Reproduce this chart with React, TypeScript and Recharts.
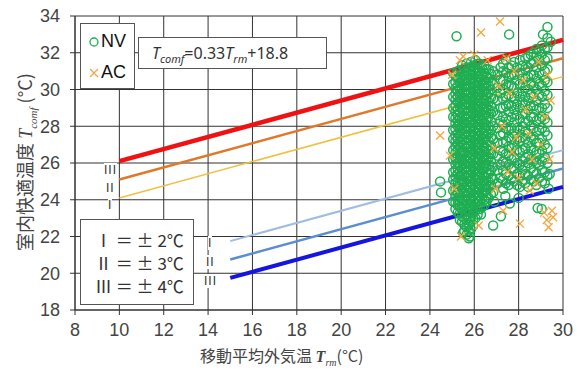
import { ComposedChart, Line, Scatter, XAxis, YAxis, CartesianGrid } from 'recharts';

// axis ticks
const xTicks = [8, 10, 12, 14, 16, 18, 20, 22, 24, 26, 28, 30];
const yTicks = [18, 20, 22, 24, 26, 28, 30, 32, 34];

// comfort band limits
const upperX = [10, 30];
const upper2 = [24.1, 30.7];
const upper3 = [25.1, 31.7];
const upper4 = [26.1, 32.7];
const lowerX = [15, 30];
const lower2 = [21.75, 26.7];
const lower3 = [20.75, 25.7];
const lower4 = [19.75, 24.7];

// NV (free running) – dense columns of readings
const nvColumns: [number, number[]][] = [
  [25.05, [23.9, 24.5, 25.1, 25.5, 26.2, 26.7, 27.3, 27.8, 28.5, 29.0, 29.6, 30.3, 30.9]],
  [25.15, [23.5, 23.85, 24.2, 24.55, 24.9, 25.25, 25.6, 25.95, 26.3, 26.55, 26.9, 27.2, 27.5, 27.85, 28.15, 28.45, 28.8, 29.1, 29.45, 29.75, 30.05, 30.4, 30.75]],
  [25.25, [23.3, 23.7, 24.0, 24.4, 24.7, 25.0, 25.4, 25.7, 26.0, 26.3, 26.7, 27.0, 27.3, 27.6, 28.0, 28.3, 28.6, 28.9, 29.3, 29.6, 29.9, 30.2, 30.6, 31.0]],
  [25.35, [22.9, 23.25, 23.6, 23.95, 24.25, 24.6, 24.95, 25.3, 25.55, 25.9, 26.25, 26.5, 26.85, 27.15, 27.45, 27.8, 28.1, 28.4, 28.75, 29.05, 29.4, 29.7, 30.0, 30.35, 30.7, 31.05]],
  [25.45, [22.8, 23.1, 23.5, 23.8, 24.1, 24.4, 24.8, 25.1, 25.4, 25.7, 26.1, 26.4, 26.6, 27.0, 27.3, 27.6, 27.9, 28.2, 28.5, 28.9, 29.2, 29.5, 29.8, 30.1, 30.5, 30.8, 31.3]],
  [25.55, [22.3, 22.65, 23.0, 23.35, 23.7, 24.0, 24.35, 24.65, 25.0, 25.35, 25.65, 25.95, 26.25, 26.6, 26.95, 27.25, 27.55, 27.85, 28.15, 28.55, 28.85, 29.15, 29.45, 29.85, 30.15, 30.45, 30.75, 31.15]],
  [25.65, [22.1, 22.5, 22.9, 23.2, 23.5, 23.9, 24.2, 24.5, 24.8, 25.2, 25.5, 25.8, 26.1, 26.4, 26.8, 27.1, 27.4, 27.7, 28.0, 28.4, 28.7, 29.0, 29.3, 29.7, 30.0, 30.3, 30.6, 31.0, 31.4]],
  [25.75, [21.9, 22.3, 22.65, 23.0, 23.35, 23.65, 24.05, 24.35, 24.65, 25.0, 25.3, 25.65, 25.95, 26.25, 26.55, 26.9, 27.25, 27.55, 27.85, 28.2, 28.55, 28.85, 29.2, 29.5, 29.85, 30.2, 30.5, 30.85, 31.2]],
  [25.85, [22.4, 22.8, 23.1, 23.4, 23.7, 24.0, 24.4, 24.7, 25.0, 25.3, 25.6, 26.0, 26.3, 26.6, 26.9, 27.2, 27.5, 27.9, 28.2, 28.5, 28.8, 29.1, 29.5, 29.8, 30.1, 30.4, 30.8, 31.1, 31.5]],
  [25.95, [22.6, 22.95, 23.3, 23.6, 23.9, 24.25, 24.55, 24.85, 25.2, 25.5, 25.85, 26.15, 26.45, 26.75, 27.05, 27.4, 27.7, 28.05, 28.35, 28.65, 28.95, 29.3, 29.65, 29.95, 30.3, 30.6, 30.95, 31.3]],
  [26.05, [23.0, 23.4, 23.8, 24.1, 24.4, 24.7, 25.1, 25.4, 25.7, 26.0, 26.3, 26.7, 27.0, 27.3, 27.6, 27.9, 28.3, 28.6, 28.9, 29.2, 29.6, 29.9, 30.2, 30.5, 30.9, 31.2, 31.6]],
  [26.15, [23.2, 23.6, 23.95, 24.25, 24.55, 24.9, 25.25, 25.55, 25.85, 26.15, 26.5, 26.85, 27.15, 27.45, 27.75, 28.1, 28.45, 28.75, 29.05, 29.4, 29.75, 30.05, 30.35, 30.7, 31.05, 31.4]],
  [26.25, [23.5, 23.9, 24.2, 24.6, 24.9, 25.2, 25.5, 25.9, 26.2, 26.5, 26.8, 27.1, 27.5, 27.8, 28.1, 28.4, 28.8, 29.1, 29.4, 29.7, 30.0, 30.4, 30.7, 31.0, 31.4]],
  [26.35, [23.6, 24.05, 24.4, 24.75, 25.05, 25.4, 25.7, 26.05, 26.35, 26.7, 26.95, 27.3, 27.65, 27.95, 28.3, 28.6, 28.95, 29.25, 29.55, 29.85, 30.2, 30.55, 30.85, 31.2]],
  [26.45, [23.7, 24.0, 24.4, 24.7, 25.0, 25.3, 25.7, 26.0, 26.3, 26.6, 26.9, 27.3, 27.6, 27.9, 28.2, 28.6, 28.9, 29.2, 29.5, 29.9, 30.2, 30.5, 30.9, 31.3]],
  [26.55, [23.9, 24.25, 24.55, 24.85, 25.2, 25.5, 25.85, 26.15, 26.45, 26.8, 27.1, 27.45, 27.75, 28.05, 28.4, 28.75, 29.05, 29.4, 29.7, 30.05, 30.35, 30.7, 31.1]],
  [26.65, [24.1, 24.6, 25.0, 25.4, 25.9, 26.3, 26.7, 27.2, 27.6, 28.0, 28.5, 28.9, 29.3, 29.8, 30.2, 30.6, 31.1]],
  [26.75, [24.3, 24.8, 25.2, 25.6, 26.1, 26.5, 26.95, 27.4, 27.8, 28.25, 28.7, 29.1, 29.55, 30.0, 30.45, 30.85]],
  [26.85, [24.4, 25.1, 25.8, 26.5, 27.3, 28.0, 28.8, 29.5, 30.3, 31.0]],
  [27.05, [24.9, 25.6, 26.4, 27.1, 27.9, 28.6, 29.4, 30.1, 30.8]],
  [27.18, [25.2, 25.9, 26.7, 27.5, 28.3, 29.0, 29.8, 30.5, 31.2]],
  [27.3, [24.6, 25.1, 25.6, 26.1, 26.6, 27.1, 27.6, 28.1, 28.5, 29.0, 29.5, 30.0, 30.5, 31.0, 31.4]],
  [27.43, [24.9, 25.4, 26.0, 26.5, 27.2, 27.9, 28.4, 29.1, 29.6, 30.3, 30.9, 31.6]],
  [27.55, [24.8, 25.3, 25.9, 26.4, 26.9, 27.4, 27.8, 28.3, 28.8, 29.2, 29.7, 30.2, 30.7, 31.2]],
  [27.68, [25.1, 25.7, 26.2, 26.8, 27.3, 27.9, 28.5, 29.1, 29.6, 30.2, 30.8, 31.3]],
  [27.8, [25.0, 25.7, 26.3, 27.0, 27.6, 28.2, 28.9, 29.5, 30.1, 30.8, 31.5]],
  [27.93, [24.8, 25.4, 26.0, 26.7, 27.3, 27.9, 28.6, 29.2, 29.8, 30.5, 31.2]],
  [28.05, [24.7, 25.3, 25.9, 26.6, 27.2, 27.8, 28.4, 29.0, 29.6, 30.3, 30.9, 31.6]],
  [28.18, [25.0, 25.6, 26.1, 26.7, 27.4, 28.0, 28.7, 29.3, 29.9, 30.6, 31.3]],
  [28.3, [24.9, 25.4, 25.8, 26.3, 26.8, 27.3, 27.7, 28.2, 28.7, 29.2, 29.6, 30.1, 30.6, 31.1, 31.7]],
  [28.43, [24.7, 25.3, 26.0, 26.5, 27.1, 27.6, 28.3, 28.9, 29.4, 30.0, 30.7, 31.2, 31.8]],
  [28.55, [25.1, 25.7, 26.2, 26.8, 27.4, 28.0, 28.5, 29.1, 29.7, 30.3, 30.8, 31.4, 31.9]],
  [28.68, [25.0, 25.5, 26.1, 26.7, 27.3, 27.9, 28.5, 29.1, 29.6, 30.2, 30.8, 31.5, 32.0]],
  [28.8, [24.8, 25.4, 26.0, 26.6, 27.1, 27.7, 28.3, 28.9, 29.4, 30.0, 30.6, 31.2, 31.8, 32.2]],
  [28.93, [25.2, 25.9, 26.5, 27.1, 27.8, 28.4, 29.0, 29.7, 30.3, 30.9, 31.6, 32.1]],
  [29.05, [25.0, 25.6, 26.1, 26.7, 27.3, 27.9, 28.5, 29.0, 29.6, 30.2, 30.8, 31.3, 31.9, 32.4]],
  [29.18, [24.9, 25.5, 26.3, 27.0, 27.7, 28.4, 29.2, 29.9, 30.5, 31.0, 31.6, 32.2]],
  [29.3, [25.3, 26.0, 26.8, 27.5, 28.2, 29.0, 29.7, 30.4, 31.1, 31.7, 32.3, 32.8]],
];

const nvOutliers: [number, number][] = [
  [25.2, 32.9], [27.57, 33.0], [29.3, 33.4], [29.1, 33.0], [29.45, 32.6],
  [24.46, 25.0], [24.5, 24.4], [28.86, 23.55], [29.04, 23.5], [26.85, 22.6],
  [27.2, 23.1], [25.8, 22.0], [25.5, 22.2], [26.3, 23.2], [27.6, 23.8],
  [26.9, 23.9], [28.0, 24.1], [27.4, 24.2], [29.35, 24.6], [29.4, 25.4],
];

// AC (air conditioned)
const acPoints: [number, number][] = [
  [24.46, 27.5], [25.35, 31.6], [26.3, 33.1], [27.16, 33.7], [25.4, 22.0],
  [28.06, 22.7], [29.5, 23.4], [29.27, 22.9], [29.55, 23.05], [29.35, 22.5],
  [29.15, 23.3], [27.3, 23.4], [24.9, 26.4], [25.0, 30.8], [25.5, 31.8],
  [26.0, 31.9], [26.6, 31.6], [27.45, 31.7], [27.6, 29.8], [28.2, 30.5],
  [27.9, 27.4], [28.6, 26.2], [29.2, 28.5], [29.3, 30.8], [27.5, 25.5],
  [28.8, 24.9], [28.3, 28.9], [26.9, 26.8], [27.1, 30.2], [29.0, 27.0],
  [28.0, 25.2], [28.45, 27.6], [27.7, 26.6], [29.4, 26.2], [28.7, 29.6],
  [27.25, 28.0], [26.95, 24.6], [28.5, 24.5], [29.45, 29.4], [25.1, 24.6],
  [26.2, 22.6], [28.9, 31.5], [27.8, 31.0],
];

const toLine = (xs: number[], ys: number[]) => xs.map((x, i) => ({ x, y: ys[i] }));
const nvData = [
  ...nvColumns.flatMap(([x, ys]) => ys.map((y) => ({ x, y }))),
  ...nvOutliers.map(([x, y]) => ({ x, y })),
];
const acData = acPoints.map(([x, y]) => ({ x, y }));

const GREEN = '#1fae52';
const ORANGE = '#f4a640';
const jp = '"Noto Sans CJK JP", "Noto Sans", sans-serif';
const narrow = '"Liberation Sans Narrow", "Liberation Sans", sans-serif';

const Ring = (p: any) => (
  <circle cx={p.cx} cy={p.cy} r={4.5} fill="none" stroke={GREEN} strokeWidth={1.5} />
);

const Cross = (p: any) => {
  const s = 4;
  return (
    <g stroke={ORANGE} strokeWidth={1.3}>
      <line x1={p.cx - s} y1={p.cy - s} x2={p.cx + s} y2={p.cy + s} />
      <line x1={p.cx - s} y1={p.cy + s} x2={p.cx + s} y2={p.cy - s} />
    </g>
  );
};

const abs = (left: number, top: number, extra: any = {}) => ({
  position: 'absolute' as const,
  left,
  top,
  ...extra,
});

export default function App() {
  const tickStyle = { fontFamily: narrow, fontSize: 18, fill: '#444' };
  return (
    <div style={{ position: 'absolute', left: 0, top: 0, width: 580, height: 375, background: '#fff' }}>
      <ComposedChart width={580} height={375} margin={{ top: 16, right: 17, left: 0, bottom: 0 }}>
        <CartesianGrid stroke="#333" strokeWidth={1} />
        <XAxis
          type="number"
          dataKey="x"
          domain={[8, 30]}
          ticks={xTicks}
          height={65}
          tickSize={5}
          tickMargin={8}
          stroke="#333"
          tick={tickStyle}
        />
        <YAxis
          type="number"
          dataKey="y"
          domain={[18, 34]}
          ticks={yTicks}
          width={75}
          tickSize={5}
          tickMargin={10}
          stroke="#333"
          tick={tickStyle}
        />
        <Line data={toLine(upperX, upper4)} dataKey="y" stroke="#f01212" strokeWidth={4.5} dot={false} isAnimationActive={false} />
        <Line data={toLine(upperX, upper3)} dataKey="y" stroke="#e0782a" strokeWidth={2.5} dot={false} isAnimationActive={false} />
        <Line data={toLine(upperX, upper2)} dataKey="y" stroke="#f0c040" strokeWidth={1.5} dot={false} isAnimationActive={false} />
        <Line data={toLine(lowerX, lower2)} dataKey="y" stroke="#a0bce0" strokeWidth={2} dot={false} isAnimationActive={false} />
        <Line data={toLine(lowerX, lower3)} dataKey="y" stroke="#5a8ed0" strokeWidth={2.5} dot={false} isAnimationActive={false} />
        <Line data={toLine(lowerX, lower4)} dataKey="y" stroke="#1515e0" strokeWidth={4} dot={false} isAnimationActive={false} />
        <Scatter name="NV" data={nvData} shape={Ring} isAnimationActive={false} />
        <Scatter name="AC" data={acData} shape={Cross} isAnimationActive={false} />
      </ComposedChart>

      {/* legend */}
      <div style={abs(80, 23, { width: 55, height: 66, boxSizing: 'border-box', border: '1px solid #555', background: '#fff' })}>
        <svg width={20} height={60} style={{ position: 'absolute', left: 5, top: 0 }}>
          <circle cx={8} cy={18} r={4} fill="none" stroke={GREEN} strokeWidth={1.3} />
          <g stroke={ORANGE} strokeWidth={1.3}>
            <line x1={4} y1={45} x2={12} y2={53} />
            <line x1={4} y1={53} x2={12} y2={45} />
          </g>
        </svg>
        <div style={abs(20, 5, { fontFamily: '"Liberation Sans", sans-serif', fontSize: 18, color: '#111', lineHeight: '24px' })}>NV</div>
        <div style={abs(20, 36, { fontFamily: '"Liberation Sans", sans-serif', fontSize: 18, color: '#111', lineHeight: '24px' })}>AC</div>
      </div>

      {/* regression formula */}
      <div
        style={abs(138, 37, {
          width: 189,
          height: 32,
          boxSizing: 'border-box',
          border: '1px solid #555',
          background: '#fff',
          fontFamily: '"Noto Sans", sans-serif',
          fontSize: 16,
          color: '#333',
          lineHeight: '30px',
          paddingLeft: 13,
          whiteSpace: 'nowrap',
        })}
      >
        <i>T</i>
        <sub style={{ fontSize: 11, fontStyle: 'italic' }}>comf</sub>=0.33<i>T</i>
        <sub style={{ fontSize: 11, fontStyle: 'italic' }}>rm</sub>+18.8
      </div>

      {/* band widths */}
      <div
        style={abs(80, 219, {
          width: 114,
          height: 86,
          boxSizing: 'border-box',
          border: '1px solid #555',
          background: '#fff',
          fontFamily: jp,
          fontSize: 17,
          color: '#333',
          lineHeight: '23px',
          paddingTop: 8,
          paddingLeft: 14,
          whiteSpace: 'nowrap',
        })}
      >
        <div>Ⅰ ＝ ± 2℃</div>
        <div>Ⅱ ＝ ± 3℃</div>
        <div>Ⅲ ＝ ± 4℃</div>
      </div>

      {/* band tags at the line ends */}
      {[
        ['III', 104, 163],
        ['II', 106, 181],
        ['I', 108, 198],
        ['I', 208, 236],
        ['II', 206, 255],
        ['III', 204, 274],
      ].map(([t, l, tp], i) => (
        <div key={i} style={abs(l as number, tp as number, { fontFamily: narrow, fontSize: 12, color: '#333', letterSpacing: 1, background: '#fff', lineHeight: '14px' })}>
          {t}
        </div>
      ))}

      {/* y axis title */}
      <div
        style={abs(-106, 150, {
          width: 260,
          height: 24,
          transform: 'rotate(-90deg)',
          textAlign: 'center',
          fontFamily: jp,
          fontSize: 18,
          color: '#444',
          lineHeight: '24px',
          whiteSpace: 'nowrap',
        })}
      >
        室内快適温度 <i style={{ fontFamily: '"Liberation Serif", serif' }}>T</i>
        <sub style={{ fontSize: 11, fontStyle: 'italic', fontFamily: '"Liberation Serif", serif' }}>comf</sub> (°C)
      </div>

      {/* x axis title */}
      <div style={abs(200, 344, { fontFamily: jp, fontSize: 16, color: '#444', lineHeight: '22px', whiteSpace: 'nowrap' })}>
        移動平均外気温 <b><i style={{ fontFamily: '"Liberation Serif", serif' }}>T</i></b>
        <sub style={{ fontSize: 10, fontStyle: 'italic', fontFamily: '"Liberation Serif", serif' }}>rm</sub>(°C)
      </div>
    </div>
  );
}
